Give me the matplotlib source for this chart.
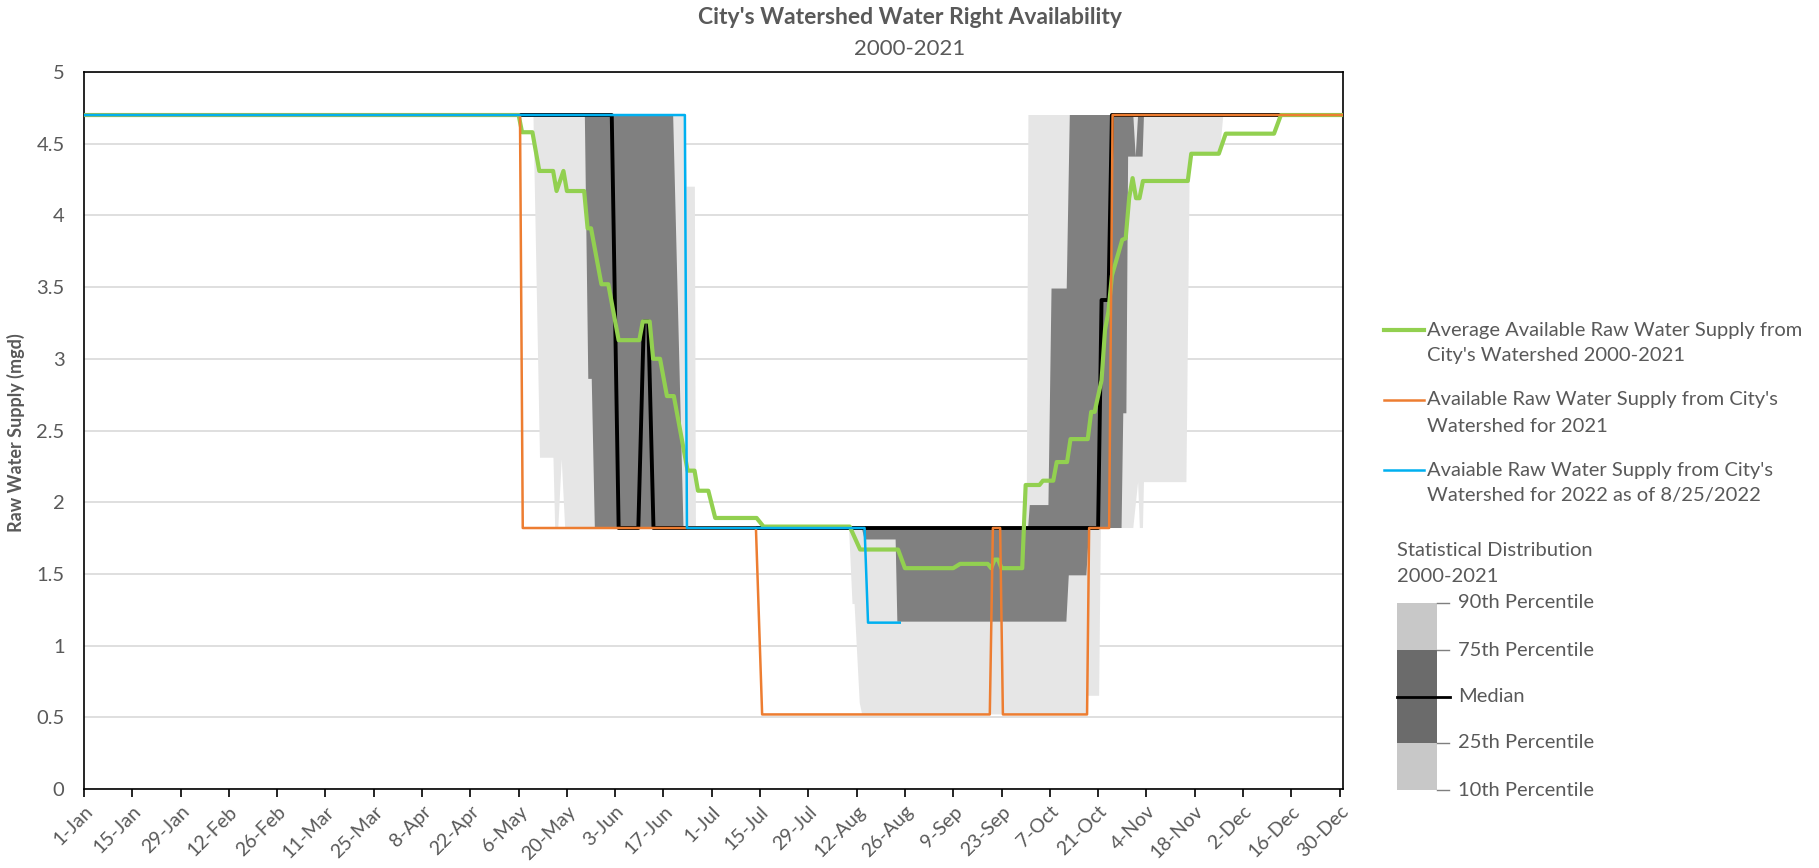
# City's watershed water right availability chart
import numpy as np
import matplotlib.pyplot as plt
from matplotlib.lines import Line2D
from matplotlib.patches import Rectangle

plt.rcParams['font.family'] = ['Lato', 'DejaVu Sans']

# day of year (0 = 1-Jan) and supply in mgd
avg_day = [0, 126, 127, 130, 132, 136, 137, 139, 140, 145, 146, 147, 150, 152, 155, 161, 162, 164,
           165, 167, 169, 171, 175, 177, 178, 181, 183, 195, 197, 222, 225, 236, 238, 252, 254,
           262, 263, 264, 265, 266, 272, 273, 277, 278, 281, 282, 285, 286, 291, 292, 293,
           295, 296, 297, 298, 301, 302, 303, 304, 305, 306, 307, 320, 321, 329, 331, 345, 347, 365]
avg_val = [4.7, 4.7, 4.58, 4.58, 4.31, 4.31, 4.17, 4.31, 4.17, 4.17, 3.91, 3.91, 3.52, 3.52, 3.13,
           3.13, 3.26, 3.26, 3.0, 3.0, 2.74, 2.74, 2.22, 2.22, 2.08, 2.08, 1.89, 1.89, 1.83, 1.83,
           1.67, 1.67, 1.54, 1.54, 1.57, 1.57, 1.54, 1.6, 1.6, 1.54, 1.54, 2.12, 2.12, 2.15, 2.15,
           2.28, 2.28, 2.44, 2.44, 2.63, 2.63, 2.85, 3.2, 3.33, 3.58, 3.83, 3.84, 4.12, 4.26, 4.12,
           4.12, 4.24, 4.24, 4.43, 4.43, 4.57, 4.57, 4.7, 4.7]

y2021_day = [0, 126.4, 127.2, 194.8, 196.6, 262.6, 263.5, 265.6, 266.4, 290.8, 291.4, 297.2, 298.2, 365]
y2021_val = [4.7, 4.7, 1.82, 1.82, 0.52, 0.52, 1.82, 1.82, 0.52, 0.52, 1.82, 1.82, 4.7, 4.7]

y2022_day = [0, 174.2, 174.8, 226.3, 227.3, 236.5]
y2022_val = [4.7, 4.7, 1.82, 1.82, 1.16, 1.16]

med_day = [0, 153, 155, 160.7, 162.3, 163.6, 165.1, 294, 295, 297, 298, 365]
med_val = [4.7, 4.7, 1.82, 1.82, 3.26, 3.26, 1.82, 1.82, 3.41, 3.41, 4.7, 4.7]

p90_day = [0, 174.2, 174.7, 177.1, 177.4, 273.3, 273.8, 365]
p90_val = [4.7, 4.7, 4.2, 4.2, 1.82, 1.82, 4.7, 4.7]

p75_day = [0, 170.8, 173.8, 273.7, 274.2, 279.6, 280.5, 284.9, 285.8, 304.2, 304.9, 305.6, 365]
p75_val = [4.7, 4.7, 1.82, 1.82, 1.98, 1.98, 3.49, 3.49, 4.7, 4.7, 4.41, 4.7, 4.7]

p25_day = [0, 145.2, 146.2, 147.2, 148.1, 225.5, 226.3, 235.3, 235.8, 284.8, 285.5, 290.6,
           291.4, 300.8, 301.3, 302.2, 302.7, 306.9, 307.3, 365]
p25_val = [4.7, 4.7, 2.86, 2.86, 1.82, 1.82, 1.74, 1.74, 1.167, 1.167, 1.49, 1.49,
           1.82, 1.82, 2.62, 2.62, 4.41, 4.41, 4.7, 4.7]

p10_day = [0, 130.3, 132.2, 136.1, 136.6, 137.5, 138.5, 139.5, 221.8, 222.8, 223.4, 224.9,
           225.6, 290.8, 291.0, 294.3, 294.8, 304.2, 305.6, 306.1, 307.0, 307.3, 319.6, 320.6,
           329.3, 330.3, 365]
p10_val = [4.7, 4.7, 2.31, 2.31, 1.82, 1.82, 2.3, 1.82, 1.82, 1.29, 1.29, 0.6,
           0.52, 0.52, 0.65, 0.65, 1.82, 1.82, 2.14, 1.82, 1.82, 2.14, 2.14, 4.43,
           4.43, 4.7, 4.7]

tick_days = list(range(0, 365, 14))
tick_labels = ['1-Jan', '15-Jan', '29-Jan', '12-Feb', '26-Feb', '11-Mar', '25-Mar', '8-Apr',
               '22-Apr', '6-May', '20-May', '3-Jun', '17-Jun', '1-Jul', '15-Jul', '29-Jul',
               '12-Aug', '26-Aug', '9-Sep', '23-Sep', '7-Oct', '21-Oct', '4-Nov', '18-Nov',
               '2-Dec', '16-Dec', '30-Dec']
y_ticks = [0, 0.5, 1, 1.5, 2, 2.5, 3, 3.5, 4, 4.5, 5]
y_labels = ['0', '0.5', '1', '1.5', '2', '2.5', '3', '3.5', '4', '4.5', '5']

legend_labels = [["Average Available Raw Water Supply from", "City's Watershed 2000-2021"],
                 ["Available Raw Water Supply from City's", "Watershed for 2021"],
                 ["Avaiable Raw Water Supply from City's", "Watershed for 2022 as of 8/25/2022"]]
pct_labels = ['90th Percentile', '75th Percentile', 'Median', '25th Percentile', '10th Percentile']

W, H = 1819, 868
GREEN, ORANGE, BLUE = '#92d050', '#ed7d31', '#00b0f0'
TXT = '#595959'


def fx(x):
    return x / W


def fy(y):
    return 1 - y / H


fig = plt.figure(figsize=(W / 100, H / 100), dpi=100)
ax = fig.add_axes([fx(84), fy(789), (1343 - 84) / W, (789 - 72) / H])

# percentile bands
ax.fill(p90_day + p10_day[::-1], p90_val + p10_val[::-1], color='#e6e6e6', lw=0, zorder=1)
ax.fill(p75_day + p25_day[::-1], p75_val + p25_val[::-1], color='#808080', lw=0, zorder=2)

ax.plot(med_day, med_val, color='black', lw=2.8, zorder=3)
ax.plot(avg_day, avg_val, color=GREEN, lw=3, zorder=4)
ax.plot(y2021_day, y2021_val, color=ORANGE, lw=1.8, zorder=5)
ax.plot(y2022_day, y2022_val, color=BLUE, lw=1.8, zorder=6)

ax.set_xlim(0, 365)
ax.set_ylim(0, 5)
ax.set_xticks(tick_days)
ax.set_xticklabels(tick_labels, rotation=45, ha='right', rotation_mode='anchor',
                   color=TXT, fontsize=14)
ax.set_yticks(y_ticks)
ax.set_yticklabels(y_labels, color=TXT, fontsize=14.5)
ax.tick_params(axis='x', length=6, width=1.2, color='black', pad=4)
ax.tick_params(axis='y', length=0, pad=14)
ax.yaxis.grid(True, color='#d9d9d9', lw=1.2)
ax.set_axisbelow(True)
for s in ax.spines.values():
    s.set_color('black')
    s.set_linewidth(1.2)

fig.text(fx(16), fy(433), 'Raw Water Supply (mgd)', rotation=90, ha='center', va='center',
         fontsize=13, fontweight='bold', color=TXT)
fig.text(0.5, fy(17), "City's Watershed Water Right Availability", ha='center', va='center',
         fontsize=16.5, fontweight='bold', color=TXT)
fig.text(0.5, fy(49), '2000-2021', ha='center', va='center', fontsize=16, color=TXT)

# legend for the lines
for (l1, l2), col, lw, y in zip(legend_labels, [GREEN, ORANGE, BLUE], [3, 1.8, 1.8], [330, 400, 470]):
    fig.add_artist(Line2D([fx(1384), fx(1424)], [fy(y), fy(y)], color=col, lw=lw,
                          transform=fig.transFigure))
    fig.text(fx(1427), fy(y), l1, ha='left', va='center', fontsize=14.5, color=TXT)
    fig.text(fx(1427), fy(y + 26), l2, ha='left', va='center', fontsize=14.5, color=TXT)

# legend for the statistical distribution
fig.text(fx(1397), fy(550), 'Statistical Distribution', ha='left', va='center',
         fontsize=14.5, color=TXT)
fig.text(fx(1397), fy(576), '2000-2021', ha='left', va='center', fontsize=14.5, color=TXT)
bands = [(603, 650, '#c8c8c8'), (650, 743, '#6b6b6b'), (743, 790, '#c8c8c8')]
for top, bot, col in bands:
    fig.add_artist(Rectangle((fx(1397), fy(bot)), (1437 - 1397) / W, (bot - top) / H,
                             color=col, lw=0, transform=fig.transFigure))
for y in [603, 650, 743, 790]:
    fig.add_artist(Line2D([fx(1437), fx(1449)], [fy(y), fy(y)], color='#7f7f7f', lw=1,
                          transform=fig.transFigure))
fig.add_artist(Line2D([fx(1397), fx(1450)], [fy(697), fy(697)], color='black', lw=2,
                      transform=fig.transFigure))
for lab, y in zip(pct_labels, [603, 650, 697, 743, 790]):
    fig.text(fx(1458), fy(y), lab, ha='left', va='center', fontsize=14.5, color=TXT)

fig.savefig('out.png', dpi=100)
